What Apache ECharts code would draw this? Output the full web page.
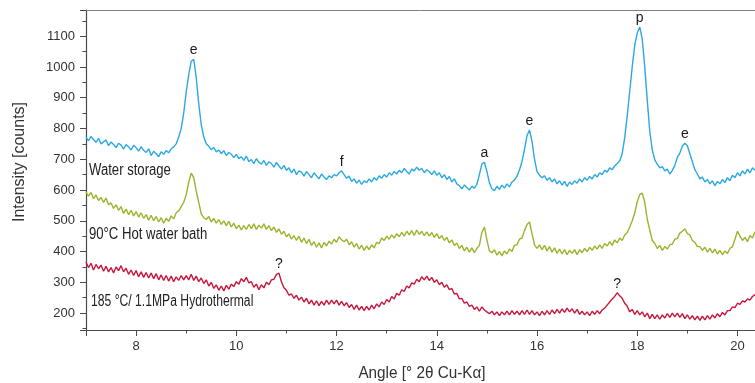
<!DOCTYPE html>
<html>
<head>
<meta charset="utf-8">
<script src="https://cdn.jsdelivr.net/npm/echarts@6/dist/echarts.min.js"></script>
<style>
html, body { margin: 0; padding: 0; background: #fff; }
#chart { width: 755px; height: 383px; }
</style>
</head>
<body>
<div id="chart"></div>
<script>
// XRD scans, 2theta in degrees (one row = one degree)
const angles = [
  7.00,7.05,7.10,7.15,7.20,7.25,7.30,7.35,7.40,7.45,7.50,7.55,7.60,7.65,7.70,7.75,7.80,7.85,7.90,7.95,
  8.00,8.05,8.10,8.15,8.20,8.25,8.30,8.35,8.40,8.45,8.50,8.55,8.60,8.65,8.70,8.75,8.80,8.85,8.90,8.95,
  9.00,9.05,9.10,9.15,9.20,9.25,9.30,9.35,9.40,9.45,9.50,9.55,9.60,9.65,9.70,9.75,9.80,9.85,9.90,9.95,
  10.00,10.05,10.10,10.15,10.20,10.25,10.30,10.35,10.40,10.45,10.50,10.55,10.60,10.65,10.70,10.75,10.80,10.85,10.90,10.95,
  11.00,11.05,11.10,11.15,11.20,11.25,11.30,11.35,11.40,11.45,11.50,11.55,11.60,11.65,11.70,11.75,11.80,11.85,11.90,11.95,
  12.00,12.05,12.10,12.15,12.20,12.25,12.30,12.35,12.40,12.45,12.50,12.55,12.60,12.65,12.70,12.75,12.80,12.85,12.90,12.95,
  13.00,13.05,13.10,13.15,13.20,13.25,13.30,13.35,13.40,13.45,13.50,13.55,13.60,13.65,13.70,13.75,13.80,13.85,13.90,13.95,
  14.00,14.05,14.10,14.15,14.20,14.25,14.30,14.35,14.40,14.45,14.50,14.55,14.60,14.65,14.70,14.75,14.80,14.85,14.90,14.95,
  15.00,15.05,15.10,15.15,15.20,15.25,15.30,15.35,15.40,15.45,15.50,15.55,15.60,15.65,15.70,15.75,15.80,15.85,15.90,15.95,
  16.00,16.05,16.10,16.15,16.20,16.25,16.30,16.35,16.40,16.45,16.50,16.55,16.60,16.65,16.70,16.75,16.80,16.85,16.90,16.95,
  17.00,17.05,17.10,17.15,17.20,17.25,17.30,17.35,17.40,17.45,17.50,17.55,17.60,17.65,17.70,17.75,17.80,17.85,17.90,17.95,
  18.00,18.05,18.10,18.15,18.20,18.25,18.30,18.35,18.40,18.45,18.50,18.55,18.60,18.65,18.70,18.75,18.80,18.85,18.90,18.95,
  19.00,19.05,19.10,19.15,19.20,19.25,19.30,19.35,19.40,19.45,19.50,19.55,19.60,19.65,19.70,19.75,19.80,19.85,19.90,19.95,
  20.00,20.05,20.10,20.15,20.20,20.25,20.30,20.35
];

const waterStorage = [
  772,760,774,764,755,768,750,757,762,744,756,748,738,752,746,733,748,740,730,745,
  738,726,741,729,722,734,712,726,718,708,724,716,728,721,734,740,750,772,800,850,
  918,975,1018,1025,965,880,812,772,750,742,731,738,724,730,718,728,712,722,716,705,
  716,702,708,696,710,692,699,686,702,690,684,696,680,692,686,674,690,678,668,680,
  664,672,656,668,650,662,658,645,660,650,640,656,646,636,652,642,634,646,640,650,
  646,656,662,650,638,645,628,636,622,632,618,630,624,636,626,640,632,646,638,650,
  642,656,648,660,652,664,656,670,660,652,668,662,674,664,670,656,666,660,650,662,
  648,656,640,650,634,644,626,636,620,614,604,616,608,600,612,606,618,650,684,690,
  660,624,604,598,612,602,616,606,620,610,626,632,645,665,692,732,776,795,758,700,
  660,648,640,646,632,640,626,636,620,630,616,628,612,626,618,630,622,636,626,640,
  632,644,636,650,642,656,650,664,658,672,666,678,686,694,718,770,840,920,1000,1070,
  1110,1130,1090,1000,892,790,730,698,684,672,676,662,668,652,664,680,706,720,742,752,
  744,718,692,666,652,636,642,626,634,620,630,614,628,620,634,624,640,630,648,640,
  656,646,662,652,668,656,672,664
];

const hotWaterBath = [
  593,580,592,572,584,566,576,560,574,552,558,540,552,534,546,524,538,520,534,516,
  530,512,526,508,520,502,518,500,514,496,510,492,508,498,516,506,526,532,546,560,
  585,625,655,640,596,560,522,510,504,514,496,508,492,504,488,500,484,498,480,492,
  474,486,470,484,472,488,474,490,472,486,476,490,472,484,468,480,462,474,456,466,
  448,458,440,452,436,450,430,444,426,440,420,432,414,428,412,430,418,434,424,440,
  430,448,438,432,440,422,432,414,426,408,420,404,418,406,422,412,430,426,444,436,
  450,440,454,444,458,448,462,450,466,454,468,452,470,456,466,452,464,450,462,446,
  458,442,452,436,446,428,438,420,428,410,420,402,414,398,412,396,410,420,462,480,
  438,402,396,406,388,400,386,402,392,408,400,420,422,440,444,468,488,496,458,422,
  410,422,406,420,402,416,398,412,394,408,392,406,390,404,394,406,390,406,396,410,
  400,414,404,418,408,422,410,426,418,432,420,438,428,444,436,454,462,480,500,525,
  562,585,590,560,505,470,436,426,410,420,404,416,408,422,424,440,442,460,466,474,
  458,454,436,430,416,416,404,414,398,410,396,408,392,404,390,402,394,410,416,440,
  466,450,436,446,432,452,444,464
];

const hydrothermal = [
  366,348,362,340,358,344,356,336,352,334,348,330,350,338,354,334,346,326,340,322,
  338,318,334,316,332,314,330,312,328,308,324,306,322,304,320,302,318,306,322,308,
  322,308,326,306,320,302,314,296,308,288,300,280,292,274,288,272,290,278,294,286,
  302,294,312,302,316,298,302,284,294,276,292,282,300,292,308,310,326,330,302,282,
  274,258,262,248,258,242,252,236,248,230,242,226,240,224,238,226,242,228,242,230,
  242,226,238,224,234,218,228,212,226,210,222,208,222,210,226,214,230,220,236,228,
  244,236,254,246,264,258,276,270,288,282,298,294,310,302,318,308,320,306,316,300,
  308,292,300,284,292,276,280,262,264,246,248,232,236,222,226,212,220,206,220,210,
  204,198,206,194,204,192,204,194,206,194,208,196,206,194,208,196,210,196,208,194,
  204,192,206,194,208,196,210,198,212,200,214,202,216,204,214,200,212,196,206,194,
  204,192,206,196,208,198,210,216,226,236,246,254,266,256,248,232,222,204,212,196,
  208,194,204,188,200,182,196,182,194,180,194,184,198,186,200,188,200,186,198,182,
  194,180,192,178,190,176,190,178,192,180,194,184,198,188,202,194,208,208,220,218,
  232,228,240,236,246,242,254,260
];

// phase tags over peaks
const waterTags = ['e', 'f', 'a', 'e', 'p', 'e'];
const waterTagAngles = [9.15, 12.10, 14.95, 15.85, 18.05, 18.95];
const hydroTags = ['?', '?'];
const hydroTagAngles = [10.85, 17.60];

const seriesNames = ['Water storage', '90°C Hot water bath', '185 °C/ 1.1MPa Hydrothermal'];
const colors = ['#2aaae0', '#9ab52b', '#c8173d'];

const sans = '"Liberation Sans", Arial, sans-serif';
const axisColor = '#4a4a4a';

function pairs(vals) {
  return vals.map((v, i) => [angles[i], v]);
}
function tagPoints(tags, tagAngles, vals) {
  return tags.map((t, i) => {
    let k = angles.findIndex(a => Math.abs(a - tagAngles[i]) < 0.001);
    return { name: t, coord: [angles[k], vals[k]] };
  });
}
function markOf(tags, tagAngles, vals) {
  return {
    symbol: 'circle',
    symbolSize: 0,
    silent: true,
    label: {
      show: true, position: 'top', distance: 2, formatter: '{b}',
      color: '#1a1a1a', fontSize: 14, fontFamily: sans
    },
    data: tagPoints(tags, tagAngles, vals)
  };
}
// squeezed text, the original figure is a bit condensed
function note(text, x, y, size, sx) {
  return {
    type: 'text', x: x, y: y, scaleX: sx,
    style: { text: text, fontSize: size, fontFamily: sans, fill: '#222', verticalAlign: 'middle' }
  };
}

const chart = echarts.init(document.getElementById('chart'));

chart.setOption({
  animation: false,
  backgroundColor: '#fff',
  grid: { left: 86, right: 0, top: 10, bottom: 53, outerBoundsMode: 'none' },
  xAxis: [{
    type: 'value',
    min: 7, max: 20.35,
    splitNumber: 7,
    axisLine: { show: true, lineStyle: { color: axisColor, width: 1.2 } },
    axisTick: { show: true, length: 6, lineStyle: { color: axisColor } },
    minorTick: { show: true, splitNumber: 2, length: 3.5, lineStyle: { color: axisColor } },
    splitLine: { show: false },
    axisLabel: {
      margin: 10, color: '#333', fontSize: 13, fontFamily: sans,
      showMinLabel: false, showMaxLabel: false
    }
  }, {
    type: 'value',
    position: 'top',
    min: 7, max: 20.35,
    axisLine: { show: true, lineStyle: { color: '#808080', width: 1 } },
    axisTick: { show: false },
    axisLabel: { show: false },
    splitLine: { show: false }
  }],
  yAxis: {
    type: 'value',
    min: 145, max: 1185,
    splitNumber: 10,
    axisLine: { show: true, lineStyle: { color: axisColor, width: 1.2 } },
    axisTick: { show: true, length: 6, lineStyle: { color: axisColor } },
    minorTick: { show: true, splitNumber: 2, length: 3.5, lineStyle: { color: axisColor } },
    splitLine: { show: false },
    axisLabel: {
      margin: 11, color: '#333', fontSize: 13, fontFamily: sans,
      showMinLabel: false, showMaxLabel: false,
      formatter: v => (v % 100 === 0 ? String(v) : '')
    }
  },
  series: [
    {
      name: seriesNames[0], type: 'line', data: pairs(waterStorage),
      showSymbol: false, silent: true, color: colors[0],
      lineStyle: { width: 1.4 },
      markPoint: markOf(waterTags, waterTagAngles, waterStorage)
    },
    {
      name: seriesNames[1], type: 'line', data: pairs(hotWaterBath),
      showSymbol: false, silent: true, color: colors[1],
      lineStyle: { width: 1.4 }
    },
    {
      name: seriesNames[2], type: 'line', data: pairs(hydrothermal),
      showSymbol: false, silent: true, color: colors[2],
      lineStyle: { width: 1.4 },
      markPoint: markOf(hydroTags, hydroTagAngles, hydrothermal)
    }
  ],
  graphic: [
    {
      type: 'text', x: 20, y: 162, rotation: Math.PI / 2,
      style: { text: 'Intensity [counts]', fontSize: 16, fontFamily: sans,
               fill: '#333', align: 'center', verticalAlign: 'middle' }
    },
    {
      type: 'text', x: 422, y: 373, scaleX: 0.9,
      style: { text: 'Angle [° 2θ Cu-Kα]', fontSize: 17, fontFamily: sans,
               fill: '#333', align: 'center', verticalAlign: 'middle' }
    },
    note(seriesNames[0], 89, 171, 16, 0.82),
    note(seriesNames[1], 89, 235, 16, 0.82),
    note(seriesNames[2], 91, 302, 16, 0.76)
  ]
});
</script>
</body>
</html>
